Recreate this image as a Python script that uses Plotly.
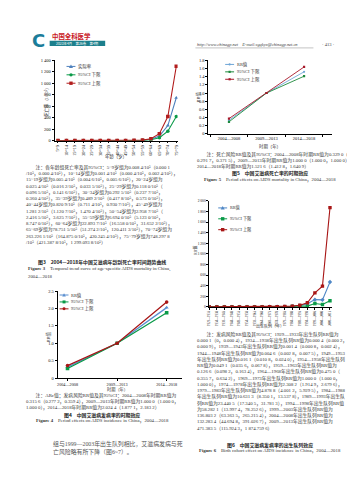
import re
import plotly.graph_objects as go

# ---------------- data ----------------
age_groups = ["5~9", "10~14", "15~19", "20~24", "25~29", "30~34", "35~39", "40~44",
              "45~49", "50~54", "55~59", "60~64", "65~69", "70~74", "75~79"]
mort_rate = [0.0084, 0.0014, 0.0054, 0.0254, 0.1180, 0.2925, 0.4892, 0.8209,
             1.2812, 2.9587, 6.6940, 22.8937, 78.7515, 263.2261, 748.2978]
mort_rate_lower = [0.0001, 0.0004, 0.0046, 0.0162, 0.0965, 0.2377, 0.4178, 0.7114,
                   1.1207, 2.4165, 5.1230, 16.5580, 51.2742, 164.8750, 421.3878]
mort_rate_upper = [0.0004, 0.0024, 0.0056, 0.0335, 0.1416, 0.3604, 0.5730, 0.9307,
                   1.4704, 3.6257, 8.7470, 31.6522, 120.4113, 420.2454, 1299.0938]

periods = ["2004—2008", "2009—2013", "2014—2018"]
mort_period_rr = [0.3290, 1.0000, 1.5216]
mort_period_lower = [0.2917, 1.0000, 1.4128]
mort_period_upper = [0.3715, 1.0000, 1.6409]

inc_period_rr = [0.3156, 1.0000, 2.0244]
inc_period_lower = [0.2772, 1.0000, 1.8771]
inc_period_upper = [0.3594, 1.0000, 2.1832]

cohorts = ["1929—1933", "1934—1938", "1939—1943", "1944—1948", "1949—1953", "1954—1958",
           "1959—1963", "1964—1968", "1969—1973", "1974—1978", "1979—1983", "1984—1988",
           "1989—1993", "1994—1998", "1999—2003", "2004—2008", "2009—2013"]
cohort_rr = [0.0001, 0.0004, 0.0014, 0.0046, 0.0161, 0.0491, 0.1266, 0.4750, 1.0000,
             2.3082, 4.8788, 10.6313, 23.4405, 58.2821, 136.8032, 132.2834, 471.3835]
cohort_lower = [0.0000, 0.0002, 0.0008, 0.0028, 0.0108, 0.0356, 0.0982, 0.3557, 1.0000,
                1.9149, 4.0012, 8.3501, 17.3405, 13.9974, 63.3635, 44.6948, 115.9243]
cohort_upper = [0.0004, 0.0009, 0.0024, 0.0075, 0.0240, 0.0678, 0.1634, 0.6342, 1.0000,
                2.6796, 5.9295, 13.5378, 31.7813, 78.2526, 265.2154, 391.0267, 1874.7596]

mort_rr_ticks = [0, 0.2, 0.4, 0.6, 0.8, 1.0, 1.2, 1.4, 1.6, 1.8]
mort_rr_ticktext = ["0", "0.2", "0.4", "0.6", "0.8", "1.0", "1.2", "1.4", "1.6", "1.8"]
inc_rr_ticks = [0, 0.5, 1.0, 1.5, 2.0, 2.5]
inc_rr_ticktext = ["0", "0.5", "1.0", "1.5", "2.0", "2.5"]

legend_age = ["实际率", "95%CI 下限", "95%CI 上限"]
legend_rr = ["RR值", "95%CI 下限", "95%CI 上限"]

# ---------------- page geometry helpers ----------------
W, H = 355, 480
FONT = "Liberation Serif, Noto Sans CJK SC"
CJK = "Noto Sans CJK SC, Liberation Serif"
BLUE = "#4f81bd"
GREEN = "#0a9a48"
RED = "#b21d1d"
TXT = "#333333"


def px(x):
    return x / W


def py(y):
    return 1 - y / H


fig = go.Figure()


def txt(x, y, s, fs, xanchor="left", yanchor="middle", color=TXT, family=FONT,
        angle=0, align="left"):
    fig.add_annotation(x=px(x), y=py(y), xref="paper", yref="paper", text=s,
                       showarrow=False, font=dict(size=fs, color=color, family=family),
                       xanchor=xanchor, yanchor=yanchor, textangle=angle, align=align,
                       borderpad=0)


def char_w(c, fs):
    if ord(c) > 0x2E80 or c in "—":
        return fs
    if c == " ":
        return 0.25 * fs
    if c in "MW":
        return 0.9 * fs
    if c.isupper():
        return 0.68 * fs
    if c in "il.,:;/":
        return 0.28 * fs
    return 0.5 * fs


def wrap(text, width, fs, indent=2):
    tokens = re.findall(r"[0-9A-Za-z.%/⁵~]+(?: [0-9][0-9.]*)*|.", text)
    lines, cur, w = [], "\u3000" * indent, indent * fs
    for t in tokens:
        tw = sum(char_w(c, fs) for c in t)
        if w + tw > width and cur and t not in "，）：。、":
            lines.append(cur)
            cur, w = "", 0
            if t == " ":
                continue
        cur += t
        w += tw
    lines.append(cur)
    return "<br>".join(lines)


def glyph(x, y, color, symbol, s=1.7):
    fig.add_shape(type="line", xref="paper", yref="paper", x0=px(x), x1=px(x + 9),
                  y0=py(y), y1=py(y), line=dict(color=color, width=1))
    cx = x + 4.5
    if symbol == "square":
        fig.add_shape(type="rect", xref="paper", yref="paper", x0=px(cx - s), x1=px(cx + s),
                      y0=py(y + s), y1=py(y - s), fillcolor=color, line=dict(width=0))
    elif symbol == "circle":
        fig.add_shape(type="circle", xref="paper", yref="paper", x0=px(cx - s), x1=px(cx + s),
                      y0=py(y + s), y1=py(y - s), fillcolor=color, line=dict(width=0))
    else:
        path = "M %f,%f L %f,%f L %f,%f Z" % (px(cx), py(y - s * 1.2), px(cx - s * 1.2),
                                               py(y + s), px(cx + s * 1.2), py(y + s))
        fig.add_shape(type="path", xref="paper", yref="paper", path=path,
                      fillcolor=color, line=dict(width=0))


def axis(**kw):
    d = dict(showline=True, linecolor="#000", linewidth=0.7, ticks="outside", ticklen=2,
             tickwidth=0.6, tickcolor="#000", showgrid=False, zeroline=False,
             tickfont=dict(size=4.5, family=FONT, color="#111"), fixedrange=True)
    d.update(kw)
    return d


# ---------------- chart 1 : age-specific mortality ----------------
series1 = [(mort_rate, BLUE, "triangle-up"), (mort_rate_lower, GREEN, "circle"),
           (mort_rate_upper, RED, "square")]
for vals, col, sym in series1:
    fig.add_trace(go.Scatter(x=age_groups, y=vals, xaxis="x", yaxis="y",
                             mode="lines+markers", line=dict(color=col, width=1.1),
                             marker=dict(symbol=sym, size=3.6, color=col)))

# ---------------- chart 2 : period effect on mortality ----------------
series2 = [(mort_period_rr, "#6fa6d6", "circle"), (mort_period_lower, "#1e8a3c", "square"),
           (mort_period_upper, "#a8192a", "square")]
for vals, col, sym in series2:
    fig.add_trace(go.Scatter(x=periods, y=vals, xaxis="x2", yaxis="y2",
                             mode="lines+markers", line=dict(color=col, width=0.9),
                             marker=dict(symbol=sym, size=2.2, color=col)))

# ---------------- chart 3 : cohort effect on incidence ----------------
series3 = [(cohort_rr, "#4f87c6", "diamond"), (cohort_lower, "#0a9a48", "square"),
           (cohort_upper, "#a81616", "square")]
for vals, col, sym in series3:
    fig.add_trace(go.Scatter(x=cohorts, y=vals, xaxis="x3", yaxis="y3",
                             mode="lines+markers", line=dict(color=col, width=1.1),
                             marker=dict(symbol=sym, size=3.4, color=col)))

# ---------------- chart 4 : period effect on incidence ----------------
series4 = [(inc_period_rr, "#5b8fd0", "triangle-up"), (inc_period_lower, "#0a9a48", "square"),
           (inc_period_upper, "#a81616", "circle")]
for vals, col, sym in series4:
    fig.add_trace(go.Scatter(x=periods, y=vals, xaxis="x4", yaxis="y4",
                             mode="lines+markers", line=dict(color=col, width=1.3),
                             marker=dict(symbol=sym, size=3.6, color=col)))

fig.update_layout(
    width=W, height=H, margin=dict(l=0, r=0, t=0, b=0),
    paper_bgcolor="white", plot_bgcolor="white", showlegend=False,
    separators=". ",
    xaxis=axis(domain=[px(45), px(169)], anchor="y", type="category", range=[-0.4, 14.15],
               tickangle=-90, tickfont=dict(size=4.2, family=FONT, color="#111")),
    yaxis=axis(domain=[py(132), py(51)], anchor="x", range=[0, 1400], dtick=200,
               separatethousands=True),
    xaxis2=axis(domain=[px(200), px(325)], anchor="y2", type="category", range=[-0.55, 2.75],
                tickson="boundaries"),
    yaxis2=axis(domain=[py(125), py(51)], anchor="x2", range=[0, 1.8],
                tickvals=mort_rr_ticks, ticktext=mort_rr_ticktext),
    xaxis3=axis(domain=[px(201), px(325)], anchor="y3", type="category", range=[0, 16.3],
                tickangle=-90, tickfont=dict(size=3.0, family=FONT, color="#111")),
    yaxis3=axis(domain=[py(300), py(193)], anchor="x3", range=[0, 2000], dtick=200,
                separatethousands=True, tickfont=dict(size=3.6, family=FONT, color="#111")),
    xaxis4=axis(domain=[px(48), px(173)], anchor="y4", type="category", range=[-0.2, 2.3],
                tickfont=dict(size=4.2, family=FONT, color="#111")),
    yaxis4=axis(domain=[py(372), py(284)], anchor="x4", range=[0, 2.5],
                tickvals=inc_rr_ticks, ticktext=inc_rr_ticktext),
)

# ---------------- legends (drawn by hand, compact like the print) ----------------
for i, (lab, (_, col, sym)) in enumerate(zip(legend_age, series1)):
    y = 57 + i * 8.5
    glyph(57, y, col, sym)
    txt(68, y, lab, 4.4)
for i, (lab, (_, col, sym)) in enumerate(zip(legend_rr, series2)):
    y = 55 + i * 7.5
    glyph(217, y, col, sym, s=1.1)
    txt(228, y, lab, 4.4)
for i, (lab, (_, col, sym)) in enumerate(zip(legend_rr, series3)):
    y = 200 + i * 11
    glyph(210, y, col, "square" if sym != "diamond" else "triangle")
    txt(221, y, lab, 4.2)
for i, (lab, (_, col, sym)) in enumerate(zip(legend_rr, series4)):
    y = 288 + i * 7
    glyph(50, y, col, "triangle" if sym == "triangle-up" else sym, s=1.5)
    txt(61, y, lab, 4.4)

# ---------------- axis titles ----------------
txt(36, 92, "死亡率（1/10⁵）", 4.4, xanchor="center", angle=-90)
txt(107, 148, "年龄（岁）", 4.4, xanchor="center")
txt(190, 88, "RR值", 4.4, xanchor="center", angle=-90)
txt(262, 138, "时期（年）", 4.4, xanchor="center")
txt(187, 243, "RR值", 4.0, xanchor="center", angle=-90)
txt(262, 319, "出生队列（年）", 4.0, xanchor="center")
txt(39, 330, "RR值", 4.4, xanchor="center", angle=-90)
txt(108, 383, "时期（年）", 4.2, xanchor="center")

# ---------------- header ----------------
txt(29, 31, "<b>C</b>", 18, xanchor="center", color="#1b7d9a", family="DejaVu Sans")
txt(41, 27, "<b>中国全科医学</b>", 6.4, color="#c8161d", family=CJK)
fig.add_shape(type="rect", xref="paper", yref="paper", x0=px(40), x1=px(96), y0=py(36.5),
              y1=py(31), fillcolor="#1c7f8c", line=dict(width=0))
txt(68, 33.8, "2023年4月　第26卷　第4期", 3.4, xanchor="center", color="white", family=CJK)
txt(188, 35, "<i>http://www.chinagp.net　E-mail:zgqkyx@chinagp.net.cn</i>", 4.4, color="#444")
fig.add_shape(type="line", xref="paper", yref="paper", x0=px(187), x1=px(306), y0=py(38.3),
              y1=py(38.3), line=dict(color="#888", width=0.5))
txt(321, 35, "· 413 ·", 4.6, xanchor="center", color="#444")

# ---------------- captions ----------------
CAP = 4.8
cap3 = ("注：各年龄组死亡率及其95%CI：5~9岁组为0.008 4/10⁵（0.000 1/10⁵，0.000 4/10⁵），"
        "10~14岁组为0.001 4/10⁵（0.000 4/10⁵，0.002 4/10⁵），15~19岁组为0.005 4/10⁵"
        "（0.004 6/10⁵，0.005 6/10⁵），20~24岁组为0.025 4/10⁵（0.016 2/10⁵，0.033 5/10⁵），"
        "25~29岁组为0.118 0/10⁵（0.096 5/10⁵，0.141 6/10⁵），30~34岁组为0.292 5/10⁵"
        "（0.237 7/10⁵，0.360 4/10⁵），35~39岁组为0.489 2/10⁵（0.417 8/10⁵，0.573 0/10⁵），"
        "40~44岁组为0.820 9/10⁵（0.711 4/10⁵，0.930 7/10⁵），45~49岁组为1.281 2/10⁵"
        "（1.120 7/10⁵，1.470 4/10⁵），50~54岁组为2.958 7/10⁵（2.416 5/10⁵，3.625 7/10⁵），"
        "55~59岁组为6.694 0/10⁵（5.123 0/10⁵，8.747 0/10⁵），60~64岁组为22.893 7/10⁵"
        "（16.558 0/10⁵，31.652 2/10⁵），65~69岁组为78.751 5/10⁵（51.274 2/10⁵，120.411 3/10⁵），"
        "70~74岁组为263.226 1/10⁵（164.875 0/10⁵，420.245 4/10⁵），75~79岁组为748.297 8/10⁵"
        "（421.387 8/10⁵，1 299.093 8/10⁵）")
txt(15, 155, wrap(cap3, 153, CAP), CAP, yanchor="top")
txt(93, 255, "<b>图3　2004—2018年中国艾滋病年龄别死亡率时间趋势曲线</b>", 4.9,
    xanchor="center", color="#222", family=CJK)
txt(17, 262, "<b>Figure 3</b>　Temporal trend curve of age-specific AIDS mortality in China,", 4.8)
txt(17, 269, "2004—2018", 4.8)

cap5 = ("注：死亡风险RR值及其95%CI：2004—2008年时期RR值为0.329 0（0.291 7，0.371 5），"
        "2009—2013年时期RR值为1.000 0（1.000 0，1.000 0），2014—2018年时期RR值为1.521 6"
        "（1.412 8，1.640 9）")
txt(188, 141, wrap(cap5, 152, CAP), CAP, yanchor="top")
txt(262, 165, "<b>图5　中国艾滋病死亡率的时期效应</b>", 4.9, xanchor="center", color="#222",
    family=CJK)
txt(262, 171.5, "<b>Figure 5</b>　Period effects on AIDS mortality in China，2004—2018", 4.8,
    xanchor="center")

cap6 = ("注：发病风险RR值及其95%CI：1929—1933年出生队列RR值为0.000 1（0，0.000 4），"
        "1934—1938年出生队列RR值为0.000 4（0.000 2，0.000 9），1939—1943年出生队列RR值为"
        "0.001 4（0.000 8，0.002 4），1944—1948年出生队列RR值为0.004 6（0.002 8，0.007 5），"
        "1949—1953年出生队列RR值为0.016 1（0.010 8，0.024 0），1954—1958年出生队列RR值为"
        "0.049 1（0.035 6，0.067 8），1959—1963年出生队列RR值为0.126 6（0.098 2，0.163 4），"
        "1964—1968年出生队列RR值为0.475 0（0.355 7，0.634 2），1969—1973年出生队列RR值为"
        "1.000 0（1.000 0，1.000 0），1974—1978年出生队列RR值为2.308 2（1.914 9，2.679 6），"
        "1979—1983年出生队列RR值为4.878 8（4.001 2，5.929 5），1984—1988年出生队列RR值为"
        "10.631 3（8.350 1，13.537 8），1989—1993年出生队列RR值为23.440 5（17.340 5，31.781 3），"
        "1994—1998年出生队列RR值为58.282 1（13.997 4，78.252 6），1999—2003年出生队列RR值为"
        "136.803 2（63.363 5，265.215 4），2004—2008年出生队列RR值为132.283 4（44.694 8，"
        "391.026 7），2009—2013年出生队列RR值为471.383 5（115.924 3，1 874.759 6）")
txt(188, 323, wrap(cap6, 152, CAP), CAP, yanchor="top")
txt(262, 439.5, "<b>图6　中国艾滋病发病率的出生队列效应</b>", 4.9, xanchor="center",
    color="#222", family=CJK)
txt(262, 446, "<b>Figure 6</b>　Birth cohort effect on AIDS incidence in China，2004—2018", 4.8,
    xanchor="center")

cap4 = ("注：ARc值；发病风险RR值及其95%CI：2004—2008年时期RR值为0.315 6（0.277 2，0.359 4），"
        "2009—2013年时期RR值为1.000 0（1.000 0，1.000 0），2014—2018年时期RR值为2.024 4"
        "（1.877 1，2.183 2）")
txt(15, 385, wrap(cap4, 153, CAP), CAP, yanchor="top")
txt(93, 409, "<b>图4　中国艾滋病发病率的时期效应</b>", 4.9, xanchor="center", color="#222",
    family=CJK)
txt(93, 415.5, "<b>Figure 4</b>　Period effects on AIDS incidence in China，2004—2018", 4.8,
    xanchor="center")

txt(42, 434, "组与1999—2003年出生队列相比，艾滋病发病与死<br>亡风险略有所下降（图6~7）。", 5.9,
    yanchor="top", color="#555")

fig.write_html("out.html")
